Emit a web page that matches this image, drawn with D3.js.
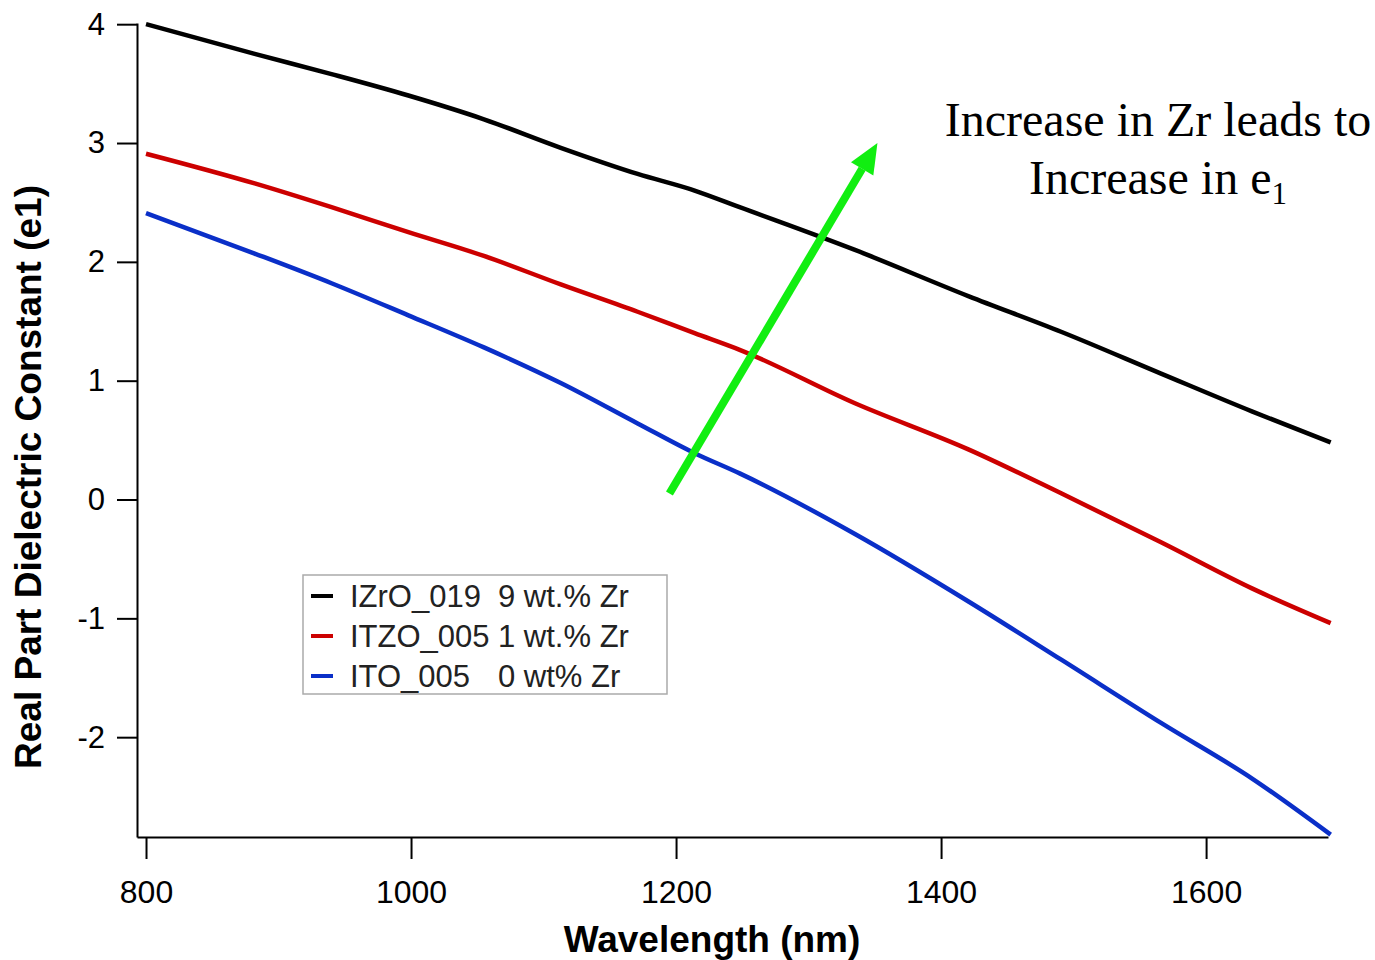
<!DOCTYPE html>
<html>
<head>
<meta charset="utf-8">
<script src="https://cdn.jsdelivr.net/npm/d3@7"></script>
<style>
  body { margin: 0; background: #fff; }
  text { font-family: "Liberation Sans", Arial, sans-serif; }
</style>
</head>
<body>
<div id="chart"></div>
<script>
// wavelength samples (nm) where the curves were read
const wavelength = [800, 882, 940, 998, 1055, 1113, 1171, 1214, 1248, 1335, 1421, 1491, 1566, 1635, 1694];

// real part of dielectric constant
const izro019 = [4.00, 3.75, 3.58, 3.40, 3.20, 2.96, 2.74, 2.60, 2.46, 2.10, 1.71, 1.41, 1.06, 0.74, 0.48];
const itzo005 = [2.91, 2.66, 2.46, 2.25, 2.05, 1.81, 1.58, 1.40, 1.26, 0.81, 0.42, 0.05, -0.36, -0.75, -1.04];
const ito005  = [2.41, 2.07, 1.82, 1.55, 1.28, 0.98, 0.64, 0.39, 0.22, -0.29, -0.86, -1.35, -1.88, -2.35, -2.82];

const seriesNames = ["IZrO_019", "ITZO_005", "ITO_005"];
const seriesNotes = ["9 wt.% Zr", "1 wt.% Zr", "0 wt% Zr"];
const seriesColors = ["#000000", "#cc0000", "#0a2fc8"];

const xTicks = [800, 1000, 1200, 1400, 1600];
const yTicks = [-2, -1, 0, 1, 2, 3, 4];

// arrow annotation in data units: [wavelength, e1]
const arrowFrom = [1195, 0.05];
const arrowTo = [1352, 3.0];

const svgWidth = 1375;
const svgHeight = 960;

const svg = d3.select("#chart")
    .append("svg")
    .attr("width", svgWidth)
    .attr("height", svgHeight)
    .style("background", "#fff");

const x = d3.scaleLinear()
    .domain([793.2, 1692])
    .range([137, 1328]);

const y = d3.scaleLinear()
    .domain([-2.84, 4.01])
    .range([837, 23]);

// axes (plain hyphen for negatives, like the original)
const yAxis = svg.append("g")
    .attr("transform", "translate(" + x.range()[0] + ",0)")
    .call(d3.axisLeft(y).tickValues(yTicks).tickSize(20).tickSizeOuter(0).tickPadding(12).tickFormat(d => String(d)));

const xAxis = svg.append("g")
    .attr("transform", "translate(0," + y.range()[0] + ")")
    .call(d3.axisBottom(x).tickValues(xTicks).tickSize(22).tickSizeOuter(0).tickPadding(21).tickFormat(d => String(d)));

[xAxis, yAxis].forEach(g => {
  g.select(".domain").attr("stroke", "#000").attr("stroke-width", 2);
  g.selectAll(".tick line").attr("stroke", "#000").attr("stroke-width", 2);
  g.selectAll(".tick text")
      .attr("fill", "#000")
      .style("font-size", "31px")
      .style("font-family", "'Liberation Sans', Arial, sans-serif");
});
xAxis.selectAll(".tick text").style("font-size", "32px");

// axis titles
svg.append("text")
    .attr("x", 712)
    .attr("y", 952)
    .attr("text-anchor", "middle")
    .style("font-size", "37px")
    .style("font-weight", "bold")
    .text("Wavelength (nm)");

svg.append("text")
    .attr("transform", "translate(41,477) rotate(-90)")
    .attr("text-anchor", "middle")
    .style("font-size", "37px")
    .style("font-weight", "bold")
    .text("Real Part Dielectric Constant (e1)");

// curves
const allSeries = [izro019, itzo005, ito005];
const line = d3.line()
    .x((d, i) => x(wavelength[i]))
    .y(d => y(d))
    .curve(d3.curveMonotoneX);

allSeries.forEach((vals, k) => {
  svg.append("path")
      .datum(vals)
      .attr("fill", "none")
      .attr("stroke", seriesColors[k])
      .attr("stroke-width", 4.5)
      .attr("stroke-linejoin", "round")
      .attr("d", line);
});

// legend
const legend = svg.append("g").attr("transform", "translate(303,575)");
legend.append("rect")
    .attr("width", 364)
    .attr("height", 119)
    .attr("fill", "#fff")
    .attr("stroke", "#aaa")
    .attr("stroke-width", 1.5);

seriesNames.forEach((name, k) => {
  const row = legend.append("g").attr("transform", "translate(0," + (21 + k * 40) + ")");
  row.append("line")
      .attr("x1", 8).attr("x2", 30)
      .attr("stroke", seriesColors[k])
      .attr("stroke-width", 4);
  row.append("text")
      .attr("x", 47).attr("dy", "0.36em")
      .attr("fill", "#222")
      .style("font-size", "31px")
      .text(name);
  row.append("text")
      .attr("x", 195).attr("dy", "0.36em")
      .attr("fill", "#222")
      .style("font-size", "31px")
      .text(seriesNotes[k]);
});

// green arrow
const x0 = x(arrowFrom[0]), y0 = y(arrowFrom[1]);
const x1 = x(arrowTo[0]), y1 = y(arrowTo[1]);
const ang = Math.atan2(y1 - y0, x1 - x0);
const headLen = 30, headHalf = 13;
const bx = x1 - headLen * Math.cos(ang), by = y1 - headLen * Math.sin(ang);

svg.append("line")
    .attr("x1", x0).attr("y1", y0)
    .attr("x2", bx).attr("y2", by)
    .attr("stroke", "#11ee11")
    .attr("stroke-width", 8);

svg.append("path")
    .attr("d", "M" + x1 + "," + y1 +
      "L" + (bx + headHalf * Math.sin(ang)) + "," + (by - headHalf * Math.cos(ang)) +
      "L" + (bx - headHalf * Math.sin(ang)) + "," + (by + headHalf * Math.cos(ang)) + "Z")
    .attr("fill", "#11ee11");

// annotation text
const note = svg.append("g").attr("fill", "#000");
const serif = "'Liberation Serif', 'Times New Roman', serif";

note.append("text")
    .attr("x", 1158).attr("y", 136)
    .attr("text-anchor", "middle")
    .style("font-family", serif)
    .style("font-size", "48px")
    .text("Increase in Zr leads to");

const line2 = note.append("text")
    .attr("x", 1158).attr("y", 194)
    .attr("text-anchor", "middle")
    .style("font-family", serif)
    .style("font-size", "48px");
line2.append("tspan").text("Increase in e");
line2.append("tspan")
    .attr("dy", 10)
    .style("font-size", "31px")
    .text("1");
</script>
</body>
</html>
